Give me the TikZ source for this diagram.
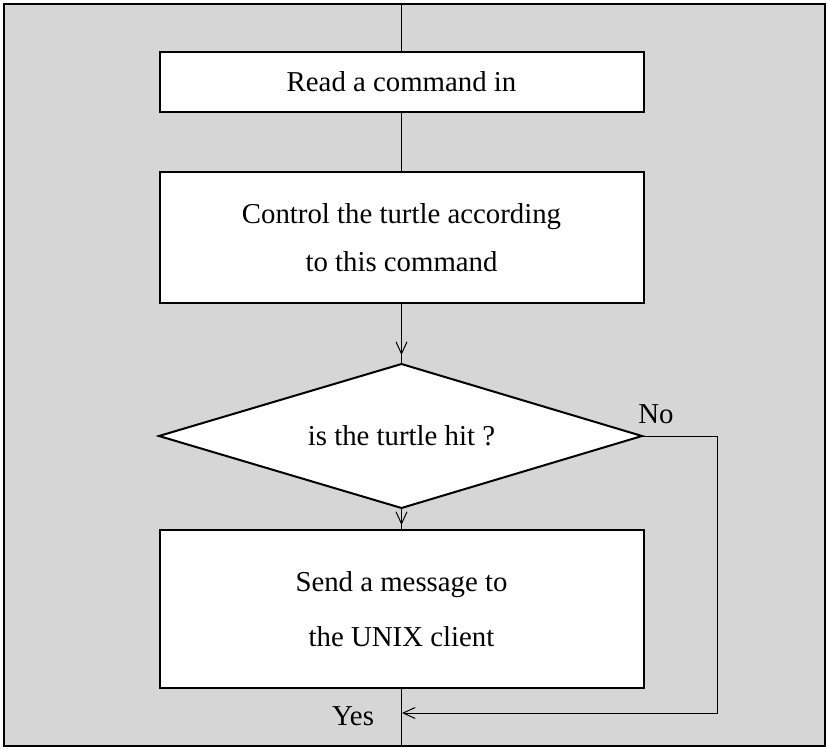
\documentclass[tikz,border=0pt]{standalone}
\usepackage{fontspec}
\setmainfont{Liberation Serif}
\usetikzlibrary{arrows.meta,calc}
\definecolor{bg}{gray}{0.84}
\begin{document}
\begin{tikzpicture}[x=1pt,y=-1pt,
  font=\fontsize{28.8}{34}\selectfont,
  box/.style={draw,line width=2pt,fill=white,minimum width=484pt,inner sep=0pt,align=center},
  conn/.style={line width=1pt},
  tip/.style={-{Straight Barb[length=12pt,width=11pt,line width=1pt]}}]
\useasboundingbox (0,0) rectangle (827,749);
\draw[fill=bg, line width=1.5pt] (4,4) rectangle (825,746);
\coordinate (top) at (401.5,4);
\coordinate (bot) at (401.5,746);
\node[box, minimum height=60pt] (read) at (401.5,82) {Read a command in};
\node[box, minimum height=131pt] (ctrl) at (401.5,237.5) {Control the turtle according\\[14pt]to this command};
\coordinate (hitn) at (401.5,364);
\coordinate (hite) at (642,436);
\coordinate (hits) at (401.5,508);
\coordinate (hitw) at (159,436);
\draw[line width=2pt, fill=white, line join=miter] (hitn) -- (hite) -- (hits) -- (hitw) -- cycle;
\node (hit) at (401.5,436) {is the turtle hit ?};
\node[box, minimum height=158pt] (send) at (401.5,609) {Send a message to\\[21pt]the UNIX client};
\draw[conn] (top) -- (read.north);
\draw[conn] (read.south) -- (ctrl.north);
\draw[conn] (ctrl.south) -- (hitn);
\draw[conn,tip] (ctrl.south) -- ($(hitn)+(0,-9)$);
\draw[conn] (hits) -- (send.north);
\draw[conn,tip] (hits) -- ($(send.north)+(0,-4)$);
\draw[conn] (send.south) -- (bot);
\coordinate (c1) at (717,436);
\coordinate (c2) at (717,713);
\coordinate (yesin) at (402,713);
\draw[conn,tip] (hite) -- (c1) -- (c2) -- (yesin);
\node[anchor=base, inner sep=0pt] (no) at (656,423) {No};
\node[anchor=base, inner sep=0pt] (yes) at (353,725) {Yes};
\end{tikzpicture}
\end{document}
